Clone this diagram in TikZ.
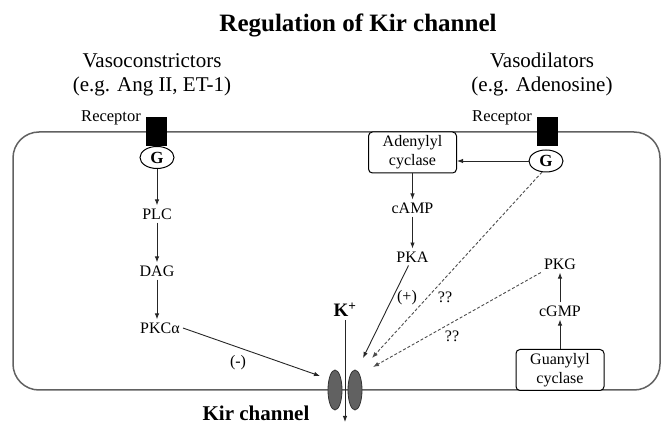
\documentclass[tikz,border=0pt]{standalone}
\usepackage{fontspec}
\setmainfont{Liberation Serif}
\usetikzlibrary{shapes.geometric,arrows.meta}
\tikzset{
  lbl/.style={font=\fontsize{16}{18}\selectfont, inner sep=3pt},
  biglbl/.style={font=\fontsize{21}{24}\selectfont, inner sep=0pt, anchor=base},
  arr/.style={-{Latex[length=6pt,width=4.5pt]}, line width=0.9pt, draw=black!85},
  darr/.style={-{Latex[length=6pt,width=4.5pt]}, line width=0.9pt, draw=black!70, dash pattern=on 3pt off 2pt},
  gprot/.style={ellipse, draw, line width=1pt, minimum width=34pt, minimum height=22pt, inner sep=0pt, font=\bfseries\fontsize{17}{18}\selectfont},
  recep/.style={fill=black, minimum width=21pt, minimum height=29pt, inner sep=0pt},
  enzyme/.style={draw, fill=white, rounded corners=4pt, line width=1pt, align=center, font=\fontsize{16}{19}\selectfont, minimum width=88pt, minimum height=41pt, inner sep=1pt},
  chan/.style={ellipse, draw=black!80, fill=black!62, minimum width=14pt, minimum height=40pt, inner sep=0pt, line width=0.8pt},
  membrane/.style={rounded corners=26pt, line width=1.5pt, draw=black!62}
}
\begin{document}
\begin{tikzpicture}[x=1pt,y=-1pt]
\useasboundingbox (0,0) rectangle (662,430);
% cell membrane
\draw[membrane] (13,132) rectangle (660,390);
% titles
\node[font=\bfseries\fontsize{25}{30}\selectfont, anchor=base, inner sep=0pt] (title) at (358,32) {Regulation of Kir channel};
\node[biglbl] (vc1) at (152,68) {Vasoconstrictors};
\node[biglbl] (vc2) at (152,92) {(e.g. Ang II, ET-1)};
\node[biglbl] (vd1) at (542,68) {Vasodilators};
\node[biglbl] (vd2) at (542,92) {(e.g. Adenosine)};
% receptors
\node[recep] (R1) at (156.5,131.5) {};
\node[recep] (R2) at (547,132) {};
\node[font=\fontsize{16.5}{18}\selectfont, anchor=base east, inner sep=0pt] (R1l) at (141,122) {Receptor};
\node[font=\fontsize{16.5}{18}\selectfont, anchor=base east, inner sep=0pt] (R2l) at (532,122) {Receptor};
% G proteins
\node[gprot] (G1) at (157,157.5) {G};
\node[gprot] (G2) at (546,161) {G};
% left chain
\node[lbl] (PLC) at (157,214) {PLC};
\node[lbl] (DAG) at (157,271) {DAG};
\node[lbl] (PKC) at (160,328) {PKCα};
% middle chain
\node[enzyme] (AC) at (412.5,152.5) {Adenylyl\\cyclase};
\node[lbl] (cAMP) at (412.5,208) {cAMP};
\node[lbl] (PKA) at (412.5,257) {PKA};
% right chain
\node[enzyme] (GC) at (560,370) {Guanylyl\\cyclase};
\node[lbl] (cGMP) at (560,311) {cGMP};
\node[lbl] (PKG) at (560,264) {PKG};
% channel
\node[chan] (ch1) at (335,390) {};
\node[chan] (ch2) at (355,390) {};
\node[font=\bfseries\fontsize{19}{20}\selectfont, inner sep=3pt] (Kp) at (345,310) {K\textsuperscript{+}};
\coordinate (kout) at (345,422);
\node[font=\bfseries\fontsize{21}{24}\selectfont, anchor=base, inner sep=0pt] (kir) at (256,421) {Kir channel};
% target points near channel
\coordinate (hitL) at (320,376);
\coordinate (hitR1) at (363,358);
\coordinate (hitR2) at (372,358);
\coordinate (hitR3) at (373,367);
% arrows
\draw[arr] (G1.south) -- (PLC.north);
\draw[arr] (PLC.south) -- (DAG.north);
\draw[arr] (DAG.south) -- (DAG.south |- PKC.north);
\draw[arr] (PKC.east) -- (hitL);
\draw[arr] (G2.west) -- (G2.west -| AC.east);
\draw[arr] (AC.south) -- (cAMP.north);
\draw[arr] (cAMP.south) -- (PKA.north);
\draw[arr] ([xshift=-4pt]PKA.south) -- (hitR1);
\draw[darr] (G2.250) -- (hitR2);
\draw[darr] (PKG.south west) -- (hitR3);
\draw[arr] (GC.north) -- (cGMP.south);
\draw[arr] (cGMP.north) -- (PKG.south);
\draw[arr] (Kp.south) -- (kout);
% labels on arrows
\node[lbl] (minus) at (238,363) {(-)};
\node[lbl] (plus) at (407,298) {(+)};
\node[lbl] (q1) at (445,297) {??};
\node[lbl] (q2) at (452,336) {??};
\end{tikzpicture}
\end{document}
